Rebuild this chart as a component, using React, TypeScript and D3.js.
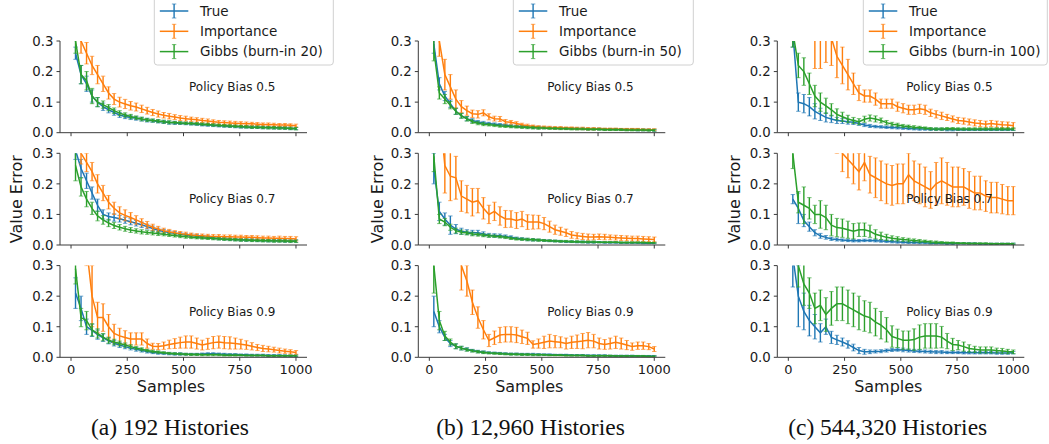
import React from 'react';
import * as d3 from 'd3';

// sample counts on the x axis (shared by every panel)
const SAMPLES = [20, 44.5, 69, 93.5, 118, 142.5, 167, 191.5, 216, 240.5, 265, 289.5, 314, 338.5, 363, 387.5, 412, 436.5, 461, 485.5, 510, 534.5, 559, 583.5, 608, 632.5, 657, 681.5, 706, 730.5, 755, 779.5, 804, 828.5, 853, 877.5, 902, 926.5, 951, 975.5, 1000];

// (a) 192 histories
const A5_TRUE = [0.26, 0.19, 0.16, 0.12, 0.10, 0.085, 0.075, 0.066, 0.058, 0.053, 0.050, 0.047, 0.044, 0.041, 0.039, 0.037, 0.035, 0.033, 0.032, 0.031, 0.030, 0.029, 0.028, 0.026, 0.025, 0.024, 0.023, 0.022, 0.021, 0.020, 0.019, 0.019, 0.018, 0.018, 0.017, 0.017, 0.016, 0.016, 0.015, 0.014, 0.014];
const A5_TRUE_ERR = [0.02, 0.03, 0.025, 0.02, 0.015, 0.012, 0.01, 0.009, 0.008, 0.007, 0.007, 0.006, 0.006, 0.006, 0.005, 0.005, 0.005, 0.005, 0.005, 0.004, 0.004, 0.004, 0.004, 0.004, 0.004, 0.004, 0.004, 0.004, 0.004, 0.004, 0.004, 0.004, 0.004, 0.004, 0.004, 0.004, 0.004, 0.004, 0.004, 0.004, 0.004];
const A5_IMP = [0.36, 0.30, 0.26, 0.22, 0.19, 0.16, 0.13, 0.11, 0.10, 0.094, 0.088, 0.084, 0.078, 0.072, 0.066, 0.061, 0.057, 0.054, 0.051, 0.048, 0.046, 0.044, 0.042, 0.040, 0.038, 0.036, 0.034, 0.033, 0.032, 0.031, 0.030, 0.029, 0.029, 0.028, 0.027, 0.027, 0.026, 0.025, 0.025, 0.024, 0.023];
const A5_IMP_ERR = [0.04, 0.04, 0.035, 0.03, 0.03, 0.025, 0.02, 0.018, 0.016, 0.015, 0.014, 0.013, 0.012, 0.011, 0.010, 0.010, 0.009, 0.009, 0.008, 0.008, 0.008, 0.007, 0.007, 0.007, 0.007, 0.006, 0.006, 0.006, 0.006, 0.006, 0.006, 0.006, 0.005, 0.005, 0.005, 0.005, 0.005, 0.005, 0.005, 0.005, 0.005];
const A5_GIBBS = [0.30, 0.19, 0.17, 0.12, 0.10, 0.092, 0.082, 0.072, 0.064, 0.058, 0.053, 0.049, 0.045, 0.042, 0.040, 0.038, 0.036, 0.034, 0.033, 0.032, 0.031, 0.030, 0.029, 0.028, 0.027, 0.025, 0.024, 0.023, 0.022, 0.021, 0.020, 0.019, 0.018, 0.018, 0.017, 0.016, 0.016, 0.015, 0.015, 0.014, 0.013];
const A5_GIBBS_ERR = [0.04, 0.03, 0.03, 0.025, 0.015, 0.012, 0.010, 0.009, 0.008, 0.007, 0.007, 0.006, 0.006, 0.005, 0.005, 0.005, 0.005, 0.005, 0.004, 0.004, 0.004, 0.004, 0.004, 0.004, 0.004, 0.004, 0.004, 0.004, 0.004, 0.004, 0.004, 0.004, 0.004, 0.004, 0.004, 0.004, 0.004, 0.004, 0.004, 0.004, 0.004];

const A7_TRUE = [0.31, 0.25, 0.21, 0.17, 0.13, 0.10, 0.093, 0.090, 0.086, 0.081, 0.076, 0.071, 0.066, 0.060, 0.054, 0.048, 0.044, 0.041, 0.038, 0.035, 0.033, 0.031, 0.029, 0.027, 0.025, 0.023, 0.021, 0.020, 0.019, 0.018, 0.017, 0.016, 0.016, 0.015, 0.015, 0.014, 0.014, 0.014, 0.013, 0.013, 0.013];
const A7_TRUE_ERR = [0.03, 0.03, 0.025, 0.02, 0.02, 0.015, 0.012, 0.012, 0.011, 0.010, 0.010, 0.009, 0.009, 0.008, 0.008, 0.007, 0.007, 0.006, 0.006, 0.006, 0.005, 0.005, 0.005, 0.005, 0.005, 0.004, 0.004, 0.004, 0.004, 0.004, 0.004, 0.004, 0.004, 0.004, 0.004, 0.004, 0.004, 0.004, 0.004, 0.004, 0.004];
const A7_IMP = [0.36, 0.30, 0.27, 0.24, 0.20, 0.17, 0.14, 0.12, 0.105, 0.097, 0.090, 0.082, 0.074, 0.066, 0.058, 0.052, 0.047, 0.043, 0.040, 0.037, 0.035, 0.033, 0.031, 0.030, 0.029, 0.028, 0.028, 0.027, 0.027, 0.026, 0.026, 0.025, 0.025, 0.024, 0.023, 0.023, 0.022, 0.022, 0.021, 0.021, 0.020];
const A7_IMP_ERR = [0.04, 0.035, 0.03, 0.03, 0.03, 0.025, 0.022, 0.02, 0.02, 0.018, 0.016, 0.014, 0.012, 0.011, 0.010, 0.009, 0.008, 0.008, 0.007, 0.007, 0.007, 0.006, 0.006, 0.006, 0.006, 0.006, 0.006, 0.006, 0.006, 0.006, 0.006, 0.006, 0.006, 0.006, 0.006, 0.006, 0.006, 0.007, 0.007, 0.007, 0.007];
const A7_GIBBS = [0.26, 0.19, 0.15, 0.12, 0.095, 0.082, 0.072, 0.064, 0.058, 0.053, 0.049, 0.046, 0.043, 0.041, 0.039, 0.037, 0.035, 0.033, 0.031, 0.029, 0.027, 0.025, 0.024, 0.023, 0.022, 0.021, 0.020, 0.019, 0.018, 0.017, 0.016, 0.016, 0.015, 0.015, 0.014, 0.014, 0.013, 0.013, 0.013, 0.012, 0.012];
const A7_GIBBS_ERR = [0.05, 0.03, 0.025, 0.02, 0.016, 0.014, 0.012, 0.010, 0.009, 0.008, 0.008, 0.007, 0.007, 0.006, 0.006, 0.006, 0.005, 0.005, 0.005, 0.005, 0.005, 0.004, 0.004, 0.004, 0.004, 0.004, 0.004, 0.004, 0.004, 0.004, 0.004, 0.004, 0.004, 0.004, 0.004, 0.004, 0.004, 0.004, 0.004, 0.004, 0.004];

const A9_TRUE = [0.21, 0.16, 0.10, 0.088, 0.074, 0.064, 0.054, 0.046, 0.040, 0.035, 0.030, 0.026, 0.022, 0.019, 0.016, 0.014, 0.013, 0.012, 0.011, 0.011, 0.010, 0.010, 0.010, 0.011, 0.012, 0.012, 0.011, 0.010, 0.009, 0.009, 0.008, 0.008, 0.007, 0.007, 0.007, 0.006, 0.006, 0.006, 0.005, 0.005, 0.005];
const A9_TRUE_ERR = [0.05, 0.04, 0.025, 0.02, 0.015, 0.012, 0.010, 0.009, 0.008, 0.007, 0.006, 0.006, 0.005, 0.005, 0.004, 0.004, 0.004, 0.004, 0.004, 0.004, 0.003, 0.003, 0.003, 0.003, 0.003, 0.003, 0.003, 0.003, 0.003, 0.003, 0.003, 0.003, 0.003, 0.003, 0.003, 0.003, 0.003, 0.003, 0.003, 0.003, 0.003];
const A9_IMP = [0.50, 0.45, 0.36, 0.20, 0.13, 0.13, 0.10, 0.078, 0.070, 0.065, 0.060, 0.060, 0.060, 0.045, 0.036, 0.035, 0.038, 0.042, 0.045, 0.048, 0.050, 0.050, 0.045, 0.040, 0.044, 0.048, 0.050, 0.048, 0.047, 0.045, 0.043, 0.040, 0.036, 0.032, 0.029, 0.027, 0.025, 0.022, 0.020, 0.018, 0.016];
const A9_IMP_ERR = [0.06, 0.06, 0.06, 0.10, 0.05, 0.045, 0.04, 0.03, 0.025, 0.022, 0.02, 0.02, 0.02, 0.015, 0.01, 0.01, 0.012, 0.014, 0.016, 0.018, 0.02, 0.02, 0.018, 0.016, 0.018, 0.02, 0.02, 0.02, 0.02, 0.018, 0.016, 0.014, 0.012, 0.01, 0.01, 0.009, 0.008, 0.008, 0.007, 0.007, 0.006];
const A9_GIBBS = [0.29, 0.13, 0.12, 0.09, 0.078, 0.066, 0.056, 0.050, 0.045, 0.040, 0.035, 0.030, 0.026, 0.022, 0.019, 0.017, 0.015, 0.013, 0.012, 0.011, 0.010, 0.009, 0.009, 0.008, 0.008, 0.008, 0.008, 0.007, 0.007, 0.007, 0.007, 0.006, 0.006, 0.006, 0.006, 0.005, 0.005, 0.005, 0.005, 0.005, 0.005];
const A9_GIBBS_ERR = [0.05, 0.03, 0.03, 0.02, 0.015, 0.012, 0.010, 0.009, 0.008, 0.007, 0.006, 0.005, 0.005, 0.004, 0.004, 0.004, 0.003, 0.003, 0.003, 0.003, 0.003, 0.003, 0.003, 0.003, 0.003, 0.003, 0.003, 0.003, 0.003, 0.003, 0.002, 0.002, 0.002, 0.002, 0.002, 0.002, 0.002, 0.002, 0.002, 0.002, 0.002];

// (b) 12,960 histories
const B5_TRUE = [0.29, 0.16, 0.12, 0.095, 0.070, 0.056, 0.046, 0.040, 0.035, 0.032, 0.030, 0.028, 0.026, 0.024, 0.022, 0.021, 0.020, 0.019, 0.018, 0.017, 0.016, 0.016, 0.015, 0.015, 0.014, 0.014, 0.013, 0.013, 0.012, 0.012, 0.012, 0.011, 0.011, 0.011, 0.010, 0.010, 0.010, 0.009, 0.009, 0.009, 0.008];
const B5_TRUE_ERR = [0.03, 0.02, 0.015, 0.012, 0.010, 0.008, 0.007, 0.006, 0.005, 0.005, 0.004, 0.004, 0.004, 0.004, 0.004, 0.004, 0.004, 0.004, 0.004, 0.004, 0.003, 0.003, 0.003, 0.003, 0.003, 0.003, 0.003, 0.003, 0.003, 0.003, 0.003, 0.003, 0.003, 0.003, 0.003, 0.003, 0.003, 0.003, 0.003, 0.003, 0.003];
const B5_IMP = [0.40, 0.30, 0.19, 0.15, 0.11, 0.085, 0.072, 0.062, 0.060, 0.065, 0.052, 0.046, 0.045, 0.036, 0.034, 0.030, 0.026, 0.023, 0.021, 0.019, 0.018, 0.017, 0.016, 0.016, 0.015, 0.015, 0.014, 0.014, 0.013, 0.013, 0.013, 0.012, 0.012, 0.012, 0.011, 0.011, 0.011, 0.011, 0.010, 0.010, 0.010];
const B5_IMP_ERR = [0.06, 0.05, 0.05, 0.04, 0.03, 0.02, 0.015, 0.012, 0.012, 0.010, 0.010, 0.008, 0.008, 0.007, 0.006, 0.006, 0.005, 0.005, 0.004, 0.004, 0.004, 0.004, 0.004, 0.004, 0.004, 0.004, 0.004, 0.004, 0.004, 0.004, 0.003, 0.003, 0.003, 0.003, 0.003, 0.003, 0.003, 0.003, 0.003, 0.003, 0.003];
const B5_GIBBS = [0.27, 0.13, 0.11, 0.09, 0.07, 0.055, 0.045, 0.036, 0.031, 0.028, 0.026, 0.024, 0.022, 0.021, 0.020, 0.019, 0.018, 0.017, 0.016, 0.015, 0.015, 0.014, 0.014, 0.013, 0.013, 0.012, 0.012, 0.012, 0.011, 0.011, 0.011, 0.010, 0.010, 0.010, 0.010, 0.009, 0.009, 0.009, 0.009, 0.008, 0.008];
const B5_GIBBS_ERR = [0.035, 0.02, 0.015, 0.012, 0.010, 0.008, 0.007, 0.006, 0.005, 0.005, 0.004, 0.004, 0.004, 0.004, 0.004, 0.004, 0.004, 0.004, 0.004, 0.004, 0.003, 0.003, 0.003, 0.003, 0.003, 0.003, 0.003, 0.003, 0.003, 0.003, 0.003, 0.003, 0.003, 0.003, 0.003, 0.003, 0.003, 0.003, 0.003, 0.003, 0.003];

const B7_TRUE = [0.25, 0.11, 0.085, 0.065, 0.052, 0.045, 0.042, 0.040, 0.040, 0.036, 0.032, 0.031, 0.030, 0.028, 0.025, 0.022, 0.020, 0.018, 0.017, 0.016, 0.015, 0.014, 0.013, 0.012, 0.011, 0.011, 0.010, 0.010, 0.009, 0.009, 0.009, 0.008, 0.008, 0.008, 0.007, 0.007, 0.007, 0.007, 0.006, 0.006, 0.006];
const B7_TRUE_ERR = [0.05, 0.03, 0.02, 0.03, 0.015, 0.010, 0.008, 0.008, 0.008, 0.007, 0.006, 0.006, 0.006, 0.005, 0.005, 0.004, 0.004, 0.004, 0.004, 0.003, 0.003, 0.003, 0.003, 0.003, 0.003, 0.003, 0.003, 0.003, 0.003, 0.003, 0.002, 0.002, 0.002, 0.002, 0.002, 0.002, 0.002, 0.002, 0.002, 0.002, 0.002];
const B7_IMP = [0.50, 0.45, 0.26, 0.225, 0.22, 0.16, 0.15, 0.14, 0.145, 0.12, 0.10, 0.11, 0.095, 0.085, 0.085, 0.08, 0.085, 0.075, 0.075, 0.075, 0.07, 0.06, 0.05, 0.045, 0.04, 0.033, 0.030, 0.028, 0.026, 0.026, 0.027, 0.026, 0.025, 0.024, 0.023, 0.022, 0.021, 0.021, 0.020, 0.019, 0.018];
const B7_IMP_ERR = [0.08, 0.08, 0.09, 0.08, 0.07, 0.05, 0.045, 0.045, 0.04, 0.035, 0.03, 0.03, 0.03, 0.028, 0.027, 0.026, 0.025, 0.024, 0.023, 0.022, 0.02, 0.018, 0.015, 0.013, 0.012, 0.011, 0.010, 0.010, 0.010, 0.009, 0.009, 0.009, 0.008, 0.008, 0.008, 0.008, 0.008, 0.008, 0.008, 0.008, 0.008];
const B7_GIBBS = [0.29, 0.085, 0.075, 0.058, 0.047, 0.042, 0.039, 0.036, 0.034, 0.032, 0.030, 0.029, 0.027, 0.025, 0.022, 0.020, 0.019, 0.018, 0.017, 0.016, 0.015, 0.014, 0.013, 0.012, 0.012, 0.011, 0.011, 0.010, 0.010, 0.010, 0.009, 0.009, 0.009, 0.009, 0.008, 0.008, 0.008, 0.008, 0.008, 0.007, 0.007];
const B7_GIBBS_ERR = [0.05, 0.015, 0.012, 0.010, 0.008, 0.007, 0.006, 0.006, 0.005, 0.005, 0.005, 0.004, 0.004, 0.004, 0.004, 0.004, 0.004, 0.004, 0.004, 0.004, 0.003, 0.003, 0.003, 0.003, 0.003, 0.003, 0.003, 0.003, 0.003, 0.003, 0.002, 0.002, 0.002, 0.002, 0.002, 0.002, 0.002, 0.002, 0.002, 0.002, 0.002];

const B9_TRUE = [0.15, 0.10, 0.065, 0.045, 0.036, 0.030, 0.026, 0.022, 0.019, 0.017, 0.015, 0.014, 0.013, 0.012, 0.011, 0.011, 0.010, 0.010, 0.010, 0.009, 0.009, 0.009, 0.008, 0.008, 0.008, 0.007, 0.007, 0.007, 0.006, 0.006, 0.006, 0.006, 0.005, 0.005, 0.005, 0.005, 0.005, 0.004, 0.004, 0.004, 0.004];
const B9_TRUE_ERR = [0.05, 0.02, 0.01, 0.01, 0.008, 0.006, 0.005, 0.004, 0.004, 0.004, 0.003, 0.003, 0.003, 0.003, 0.003, 0.003, 0.003, 0.003, 0.003, 0.003, 0.002, 0.002, 0.002, 0.002, 0.002, 0.002, 0.002, 0.002, 0.002, 0.002, 0.002, 0.002, 0.002, 0.002, 0.002, 0.002, 0.002, 0.002, 0.002, 0.002, 0.002];
const B9_IMP = [0.60, 0.55, 0.50, 0.45, 0.40, 0.30, 0.25, 0.18, 0.13, 0.09, 0.055, 0.064, 0.073, 0.075, 0.075, 0.073, 0.067, 0.062, 0.042, 0.045, 0.049, 0.053, 0.051, 0.049, 0.045, 0.049, 0.051, 0.053, 0.056, 0.053, 0.045, 0.042, 0.045, 0.049, 0.045, 0.040, 0.035, 0.038, 0.038, 0.035, 0.027];
const B9_IMP_ERR = [0.08, 0.08, 0.08, 0.08, 0.08, 0.08, 0.05, 0.04, 0.035, 0.03, 0.02, 0.022, 0.025, 0.025, 0.025, 0.025, 0.022, 0.02, 0.012, 0.015, 0.02, 0.022, 0.02, 0.018, 0.018, 0.02, 0.022, 0.025, 0.025, 0.022, 0.018, 0.016, 0.018, 0.02, 0.018, 0.015, 0.012, 0.012, 0.012, 0.01, 0.008];
const B9_GIBBS = [0.30, 0.12, 0.07, 0.05, 0.036, 0.030, 0.025, 0.021, 0.018, 0.016, 0.014, 0.013, 0.012, 0.011, 0.010, 0.010, 0.009, 0.009, 0.008, 0.008, 0.008, 0.007, 0.007, 0.007, 0.006, 0.006, 0.006, 0.006, 0.005, 0.005, 0.005, 0.005, 0.005, 0.004, 0.004, 0.004, 0.004, 0.004, 0.004, 0.003, 0.003];
const B9_GIBBS_ERR = [0.09, 0.03, 0.015, 0.010, 0.008, 0.006, 0.005, 0.004, 0.004, 0.004, 0.003, 0.003, 0.003, 0.003, 0.003, 0.003, 0.003, 0.003, 0.003, 0.003, 0.002, 0.002, 0.002, 0.002, 0.002, 0.002, 0.002, 0.002, 0.002, 0.002, 0.002, 0.002, 0.002, 0.002, 0.002, 0.002, 0.002, 0.002, 0.002, 0.002, 0.002];

// (c) 544,320 histories
const C5_TRUE = [0.33, 0.10, 0.095, 0.085, 0.07, 0.06, 0.05, 0.045, 0.04, 0.038, 0.036, 0.034, 0.03, 0.025, 0.022, 0.02, 0.019, 0.018, 0.017, 0.016, 0.015, 0.014, 0.013, 0.012, 0.012, 0.011, 0.011, 0.011, 0.01, 0.01, 0.01, 0.01, 0.01, 0.01, 0.01, 0.01, 0.01, 0.01, 0.01, 0.01, 0.01];
const C5_TRUE_ERR = [0.05, 0.03, 0.03, 0.03, 0.025, 0.02, 0.015, 0.012, 0.010, 0.008, 0.008, 0.007, 0.006, 0.005, 0.005, 0.004, 0.004, 0.004, 0.004, 0.004, 0.004, 0.004, 0.004, 0.004, 0.004, 0.004, 0.004, 0.004, 0.004, 0.004, 0.003, 0.003, 0.003, 0.003, 0.003, 0.003, 0.003, 0.003, 0.003, 0.003, 0.003];
const C5_IMP = [0.60, 0.55, 0.50, 0.45, 0.33, 0.32, 0.33, 0.31, 0.25, 0.22, 0.19, 0.16, 0.13, 0.12, 0.12, 0.11, 0.095, 0.095, 0.095, 0.085, 0.08, 0.075, 0.075, 0.078, 0.075, 0.065, 0.06, 0.055, 0.05, 0.045, 0.04, 0.038, 0.035, 0.032, 0.03, 0.028, 0.03, 0.028, 0.026, 0.025, 0.023];
const C5_IMP_ERR = [0.1, 0.1, 0.1, 0.1, 0.12, 0.11, 0.1, 0.09, 0.07, 0.06, 0.05, 0.035, 0.025, 0.02, 0.02, 0.02, 0.015, 0.015, 0.015, 0.015, 0.015, 0.015, 0.015, 0.015, 0.015, 0.012, 0.012, 0.012, 0.01, 0.01, 0.01, 0.01, 0.01, 0.01, 0.01, 0.01, 0.01, 0.01, 0.01, 0.01, 0.01];
const C5_GIBBS = [0.33, 0.22, 0.20, 0.16, 0.12, 0.10, 0.088, 0.075, 0.06, 0.052, 0.045, 0.04, 0.036, 0.044, 0.048, 0.045, 0.04, 0.033, 0.028, 0.025, 0.022, 0.02, 0.018, 0.017, 0.015, 0.013, 0.012, 0.012, 0.013, 0.013, 0.012, 0.012, 0.012, 0.012, 0.012, 0.012, 0.012, 0.012, 0.012, 0.012, 0.012];
const C5_GIBBS_ERR = [0.05, 0.04, 0.045, 0.035, 0.035, 0.03, 0.025, 0.02, 0.018, 0.015, 0.012, 0.01, 0.01, 0.01, 0.01, 0.01, 0.008, 0.007, 0.006, 0.006, 0.005, 0.005, 0.005, 0.004, 0.004, 0.004, 0.004, 0.004, 0.004, 0.004, 0.004, 0.004, 0.004, 0.004, 0.004, 0.004, 0.004, 0.004, 0.004, 0.004, 0.004];

const C7_TRUE = [0.15, 0.12, 0.08, 0.06, 0.04, 0.03, 0.025, 0.02, 0.018, 0.016, 0.015, 0.014, 0.014, 0.015, 0.015, 0.014, 0.013, 0.012, 0.011, 0.01, 0.009, 0.008, 0.008, 0.007, 0.007, 0.006, 0.006, 0.006, 0.005, 0.005, 0.005, 0.005, 0.005, 0.005, 0.004, 0.004, 0.004, 0.004, 0.004, 0.004, 0.004];
const C7_TRUE_ERR = [0.015, 0.05, 0.02, 0.015, 0.01, 0.008, 0.006, 0.005, 0.005, 0.004, 0.004, 0.004, 0.004, 0.004, 0.004, 0.004, 0.004, 0.004, 0.004, 0.004, 0.003, 0.003, 0.003, 0.003, 0.003, 0.003, 0.003, 0.003, 0.003, 0.003, 0.002, 0.002, 0.002, 0.002, 0.002, 0.002, 0.002, 0.002, 0.002, 0.002, 0.002];
const C7_IMP = [0.60, 0.58, 0.55, 0.52, 0.50, 0.48, 0.45, 0.42, 0.34, 0.30, 0.28, 0.26, 0.24, 0.27, 0.23, 0.22, 0.21, 0.20, 0.195, 0.20, 0.20, 0.23, 0.21, 0.20, 0.19, 0.18, 0.20, 0.21, 0.20, 0.19, 0.19, 0.19, 0.18, 0.17, 0.17, 0.16, 0.155, 0.155, 0.15, 0.145, 0.145];
const C7_IMP_ERR = [0.1, 0.1, 0.1, 0.1, 0.1, 0.1, 0.1, 0.1, 0.04, 0.06, 0.06, 0.06, 0.06, 0.06, 0.06, 0.065, 0.065, 0.065, 0.065, 0.065, 0.065, 0.07, 0.065, 0.065, 0.065, 0.06, 0.07, 0.075, 0.07, 0.065, 0.065, 0.06, 0.06, 0.055, 0.055, 0.05, 0.05, 0.05, 0.048, 0.046, 0.046];
const C7_GIBBS = [0.30, 0.14, 0.13, 0.12, 0.10, 0.10, 0.09, 0.065, 0.057, 0.055, 0.05, 0.045, 0.05, 0.05, 0.045, 0.035, 0.03, 0.025, 0.022, 0.02, 0.018, 0.016, 0.015, 0.013, 0.012, 0.01, 0.009, 0.008, 0.007, 0.007, 0.006, 0.006, 0.005, 0.005, 0.005, 0.005, 0.004, 0.004, 0.004, 0.004, 0.004];
const C7_GIBBS_ERR = [0.05, 0.035, 0.06, 0.035, 0.03, 0.045, 0.04, 0.035, 0.03, 0.03, 0.028, 0.025, 0.022, 0.022, 0.02, 0.015, 0.012, 0.01, 0.008, 0.007, 0.006, 0.006, 0.005, 0.005, 0.004, 0.004, 0.004, 0.003, 0.003, 0.003, 0.002, 0.002, 0.002, 0.002, 0.002, 0.002, 0.002, 0.002, 0.002, 0.002, 0.002];

const C9_TRUE = [0.33, 0.20, 0.15, 0.12, 0.10, 0.08, 0.10, 0.065, 0.057, 0.05, 0.042, 0.032, 0.022, 0.018, 0.018, 0.019, 0.02, 0.022, 0.024, 0.025, 0.024, 0.022, 0.021, 0.02, 0.019, 0.018, 0.017, 0.017, 0.016, 0.016, 0.016, 0.015, 0.015, 0.015, 0.015, 0.015, 0.015, 0.014, 0.014, 0.014, 0.015];
const C9_TRUE_ERR = [0.1, 0.1, 0.06, 0.05, 0.04, 0.03, 0.025, 0.02, 0.015, 0.013, 0.012, 0.011, 0.01, 0.008, 0.006, 0.005, 0.005, 0.005, 0.005, 0.005, 0.006, 0.005, 0.005, 0.005, 0.005, 0.005, 0.005, 0.005, 0.004, 0.004, 0.004, 0.004, 0.004, 0.004, 0.004, 0.004, 0.004, 0.004, 0.004, 0.004, 0.004];
const C9_IMP = [0.62, 0.60, 0.58, 0.57, 0.55, 0.54, 0.52, 0.51, 0.50, 0.49, 0.48, 0.47, 0.46, 0.46, 0.45, 0.45, 0.44, 0.44, 0.43, 0.43, 0.42, 0.42, 0.42, 0.41, 0.41, 0.41, 0.40, 0.40, 0.40, 0.40, 0.39, 0.39, 0.39, 0.39, 0.38, 0.38, 0.38, 0.38, 0.38, 0.37, 0.37];
const C9_IMP_ERR = [0.05, 0.05, 0.05, 0.05, 0.05, 0.05, 0.05, 0.05, 0.05, 0.05, 0.05, 0.05, 0.05, 0.05, 0.05, 0.05, 0.05, 0.05, 0.05, 0.05, 0.05, 0.05, 0.05, 0.05, 0.05, 0.05, 0.05, 0.05, 0.05, 0.05, 0.05, 0.05, 0.05, 0.05, 0.05, 0.05, 0.05, 0.05, 0.05, 0.05, 0.05];
const C9_GIBBS = [0.40, 0.30, 0.24, 0.21, 0.16, 0.17, 0.14, 0.16, 0.175, 0.175, 0.165, 0.155, 0.145, 0.135, 0.13, 0.115, 0.105, 0.09, 0.068, 0.062, 0.056, 0.056, 0.058, 0.066, 0.07, 0.07, 0.07, 0.066, 0.053, 0.042, 0.04, 0.035, 0.029, 0.026, 0.024, 0.024, 0.024, 0.022, 0.021, 0.019, 0.018];
const C9_GIBBS_ERR = [0.06, 0.07, 0.07, 0.05, 0.05, 0.05, 0.055, 0.055, 0.055, 0.055, 0.055, 0.055, 0.055, 0.05, 0.05, 0.045, 0.045, 0.04, 0.035, 0.03, 0.03, 0.03, 0.035, 0.04, 0.04, 0.04, 0.04, 0.035, 0.025, 0.02, 0.015, 0.015, 0.012, 0.01, 0.01, 0.01, 0.01, 0.008, 0.008, 0.007, 0.006];

const BIASES = ['0.5', '0.7', '0.9'];
const CAPTIONS = ['(a) 192 Histories', '(b) 12,960 Histories', '(c) 544,320 Histories'];
const BURN_IN = [20, 50, 100];
const X_TICKS = [0, 250, 500, 750, 1000];
const Y_TICKS = [0, 0.1, 0.2, 0.3];
const COLORS = ['#1f77b4', '#ff7f0e', '#2ca02c'];

// [column][row][series] -> [values, errors]
const GRID = [
  [
    [[A5_TRUE, A5_TRUE_ERR], [A5_IMP, A5_IMP_ERR], [A5_GIBBS, A5_GIBBS_ERR]],
    [[A7_TRUE, A7_TRUE_ERR], [A7_IMP, A7_IMP_ERR], [A7_GIBBS, A7_GIBBS_ERR]],
    [[A9_TRUE, A9_TRUE_ERR], [A9_IMP, A9_IMP_ERR], [A9_GIBBS, A9_GIBBS_ERR]],
  ],
  [
    [[B5_TRUE, B5_TRUE_ERR], [B5_IMP, B5_IMP_ERR], [B5_GIBBS, B5_GIBBS_ERR]],
    [[B7_TRUE, B7_TRUE_ERR], [B7_IMP, B7_IMP_ERR], [B7_GIBBS, B7_GIBBS_ERR]],
    [[B9_TRUE, B9_TRUE_ERR], [B9_IMP, B9_IMP_ERR], [B9_GIBBS, B9_GIBBS_ERR]],
  ],
  [
    [[C5_TRUE, C5_TRUE_ERR], [C5_IMP, C5_IMP_ERR], [C5_GIBBS, C5_GIBBS_ERR]],
    [[C7_TRUE, C7_TRUE_ERR], [C7_IMP, C7_IMP_ERR], [C7_GIBBS, C7_GIBBS_ERR]],
    [[C9_TRUE, C9_TRUE_ERR], [C9_IMP, C9_IMP_ERR], [C9_GIBBS, C9_GIBBS_ERR]],
  ],
];

// layout
const W = 1049;
const H = 444;
const COL_X = [60, 418.3, 777.3];
const ROW_Y = [41, 153.3, 265.6];
const PW = 247;
const PH = 91.7;
const LEGEND_X = [154.3, 513.3, 863.3];
const LEGEND_W = [179, 180, 184];
const CAPTION_X = [170, 530.5, 887.7];
const FONT = '"DejaVu Sans", sans-serif';
const TEXT = '#1a1a1a';
const AXIS = '#3a3a3a';

const x = d3.scaleLinear().domain([-49, 1049]).range([0, PW]);
const y = d3.scaleLinear().domain([0, 0.3]).range([PH, 0]);
const line = d3.line<number>().x((_, i) => x(SAMPLES[i])).y((v) => y(v));

const Panel = ({ ci, ri }: { ci: number; ri: number }) => {
  const clipId = `clip-${ci}-${ri}`;
  const series = GRID[ci][ri];
  return (
    <g transform={`translate(${COL_X[ci]},${ROW_Y[ri]})`}>
      <defs>
        <clipPath id={clipId}>
          <rect x={0} y={0} width={PW} height={PH} />
        </clipPath>
      </defs>
      <g clipPath={`url(#${clipId})`}>
        {series.map(([vals, errs], si) => (
          <g key={si}>
            <path d={line(vals) || ''} fill="none" stroke={COLORS[si]} strokeWidth={1.5} />
            {vals.map((v, i) => {
              const cx = x(SAMPLES[i]);
              const lo = y(v - errs[i]);
              const hi = y(v + errs[i]);
              return (
                <g key={i}>
                  <line x1={cx} x2={cx} y1={lo} y2={hi} stroke={COLORS[si]} strokeWidth={1.4} />
                  <line x1={cx - 2.2} x2={cx + 2.2} y1={lo} y2={lo} stroke={COLORS[si]} strokeWidth={1} opacity={0.65} />
                  <line x1={cx - 2.2} x2={cx + 2.2} y1={hi} y2={hi} stroke={COLORS[si]} strokeWidth={1} opacity={0.65} />
                </g>
              );
            })}
          </g>
        ))}
      </g>
      {/* spines */}
      <line x1={0} x2={0} y1={0} y2={PH} stroke={AXIS} strokeWidth={1} />
      <line x1={0} x2={PW} y1={PH} y2={PH} stroke={AXIS} strokeWidth={1} />
      {Y_TICKS.map((t) => (
        <g key={t} transform={`translate(0,${y(t)})`}>
          <line x1={-3.5} x2={0} stroke={AXIS} strokeWidth={1} />
          <text x={-6.5} dy="0.36em" textAnchor="end" fontSize={13.3} fill={TEXT} fontFamily={FONT}>
            {t.toFixed(1)}
          </text>
        </g>
      ))}
      {X_TICKS.map((t) => (
        <g key={t} transform={`translate(${x(t)},${PH})`}>
          <line y1={0} y2={3.5} stroke={AXIS} strokeWidth={1} />
          {ri === 2 && (
            <text y={16.6} textAnchor="middle" fontSize={13} fill={TEXT} fontFamily={FONT}>
              {t}
            </text>
          )}
        </g>
      ))}
      <text x={129} y={PH / 2} dy="0.36em" fontSize={12} fill={TEXT} fontFamily={FONT}>
        {`Policy Bias ${BIASES[ri]}`}
      </text>
      {ri === 1 && (
        <text
          transform={`translate(${[-38, -35.8, -37.3][ci]},${PH / 2}) rotate(-90)`}
          textAnchor="middle"
          fontSize={16}
          fill={TEXT}
          fontFamily={FONT}
        >
          Value Error
        </text>
      )}
      {ri === 2 && (
        <text x={111} y={PH + 35} textAnchor="middle" fontSize={16} fill={TEXT} fontFamily={FONT}>
          Samples
        </text>
      )}
    </g>
  );
};

const Legend = ({ ci }: { ci: number }) => {
  const labels = ['True', 'Importance', `Gibbs (burn-in ${BURN_IN[ci]})`];
  const rowY = [11, 31.3, 51.6];
  return (
    <g transform={`translate(${LEGEND_X[ci]},0)`}>
      <rect x={0} y={-6} width={LEGEND_W[ci]} height={71} rx={3} fill="#fff" fillOpacity={0.8} stroke="#d0d0d0" strokeWidth={1} />
      {labels.map((lab, i) => (
        <g key={lab} transform={`translate(0,${rowY[i]})`}>
          <line x1={5.5} x2={34} y1={0} y2={0} stroke={COLORS[i]} strokeWidth={1.5} />
          <line x1={19.8} x2={19.8} y1={-7} y2={7} stroke={COLORS[i]} strokeWidth={1.4} />
          <line x1={17.6} x2={22} y1={-7} y2={-7} stroke={COLORS[i]} strokeWidth={1} opacity={0.65} />
          <line x1={17.6} x2={22} y1={7} y2={7} stroke={COLORS[i]} strokeWidth={1} opacity={0.65} />
          <text x={45.7} dy="0.36em" fontSize={13.5} fill={TEXT} fontFamily={FONT}>
            {lab}
          </text>
        </g>
      ))}
    </g>
  );
};

export default function App() {
  return (
    <svg width={W} height={H} style={{ position: 'absolute', left: 0, top: 0, background: '#fff' }}>
      <rect width={W} height={H} fill="#fff" />
      {[0, 1, 2].map((ci) =>
        [0, 1, 2].map((ri) => <Panel key={`${ci}-${ri}`} ci={ci} ri={ri} />)
      )}
      {[0, 1, 2].map((ci) => (
        <Legend key={ci} ci={ci} />
      ))}
      {CAPTIONS.map((c, ci) => (
        <text
          key={c}
          x={CAPTION_X[ci]}
          y={434.5}
          textAnchor="middle"
          fontSize={23.5}
          fill="#111"
          fontFamily='"Liberation Serif", "Times New Roman", serif'
        >
          {c}
        </text>
      ))}
    </svg>
  );
}
